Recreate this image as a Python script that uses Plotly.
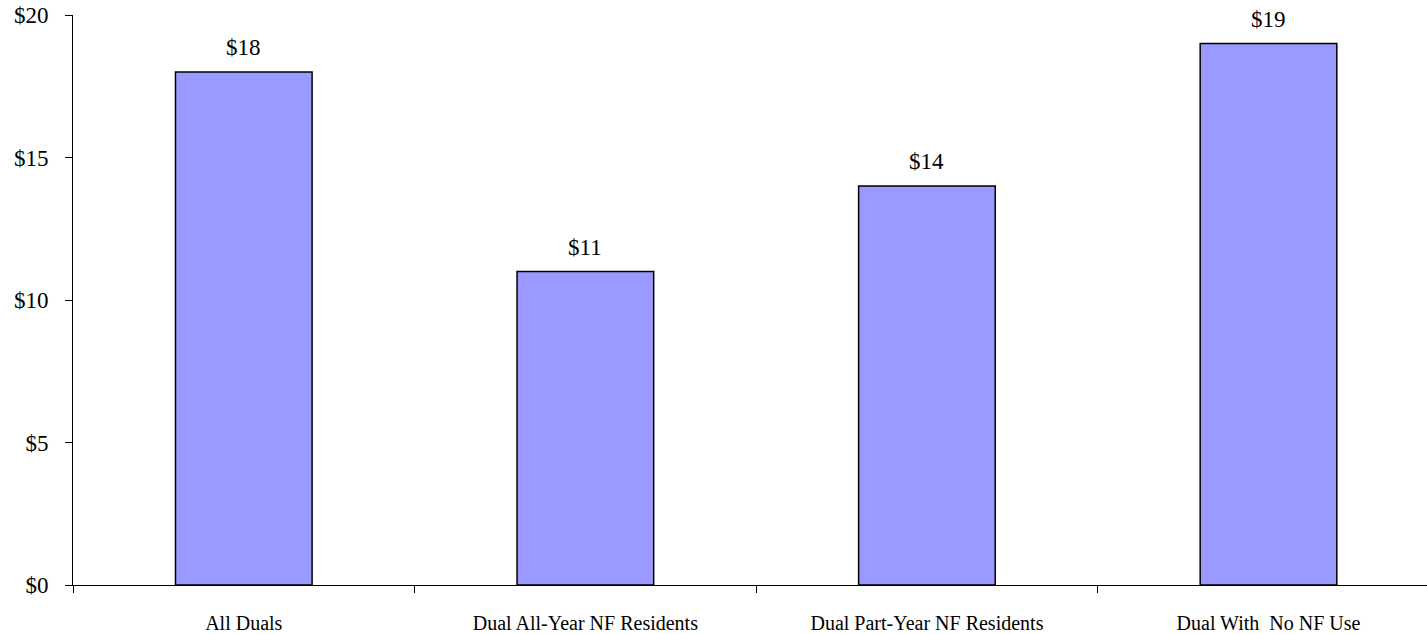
import plotly.graph_objects as go

categories = ["All Duals", "Dual All-Year NF Residents", "Dual Part-Year NF Residents", "Dual With  No NF Use"]
values = [18, 11, 14, 19]
y_ticks = [0, 5, 10, 15, 20]
y_tick_labels = ["$0", "$5", "$10", "$15", "$20"]

family = "Liberation Serif, Times New Roman, serif"
num_font = dict(family=family, size=23, color="black")
cat_font = dict(family=family, size=20, color="black")

fig = go.Figure()
fig.add_trace(go.Bar(
    x=categories, y=values, width=0.4,
    marker=dict(color="#9999FF", line=dict(color="black", width=1.5)),
    hoverinfo="skip",
))
for c, v in zip(categories, values):
    fig.add_annotation(x=c, y=v, text=f"${v}", showarrow=False, yanchor="bottom",
                       yshift=10, font=num_font)

fig.update_layout(
    width=1427, height=634,
    margin=dict(l=73, r=0, t=15, b=49, autoexpand=False),
    plot_bgcolor="white", paper_bgcolor="white",
    font=num_font, showlegend=False,
)
fig.update_xaxes(
    type="category", range=[-0.5, 3.464],
    showline=True, linecolor="black", linewidth=1,
    ticks="outside", tickson="boundaries", ticklen=7, tickcolor="black",
    ticklabelstandoff=20, showgrid=False, tickfont=cat_font,
    ticklabeloverflow="allow", automargin=False,
)
fig.update_yaxes(
    range=[0, 20], tickvals=y_ticks, ticktext=y_tick_labels,
    showline=True, linecolor="black", linewidth=1,
    ticks="outside", ticklen=7, tickcolor="black",
    ticklabelstandoff=12, showgrid=False, zeroline=False, tickfont=num_font,
    ticklabeloverflow="allow", automargin=False,
)
fig.write_html("out.html", config={"displayModeBar": False, "staticPlot": True},
               post_script="document.body.style.margin='0px';document.body.style.overflow='hidden';")
